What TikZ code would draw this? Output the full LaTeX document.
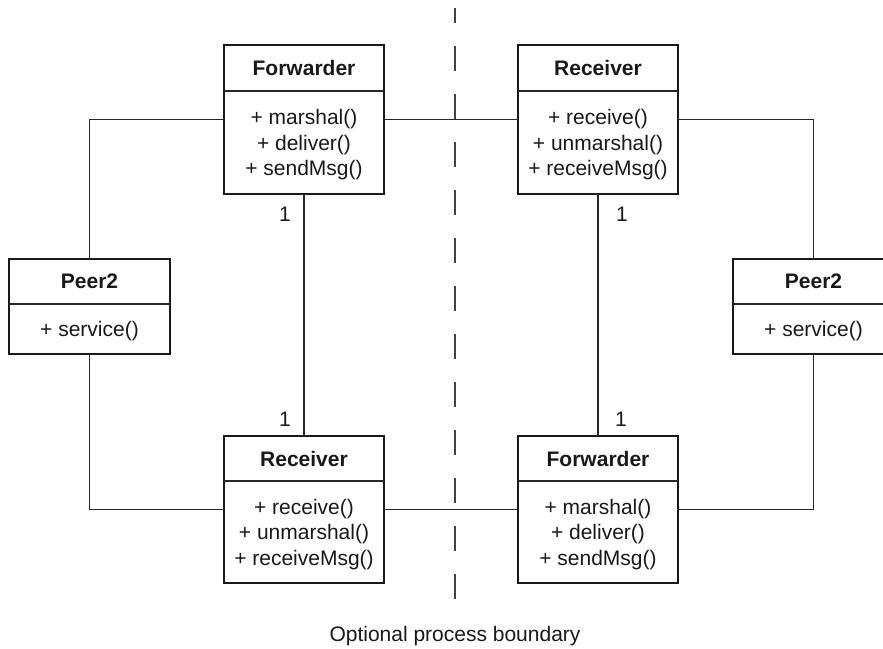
\documentclass[tikz,border=0pt]{standalone}
\usepackage{fontspec}
\setmainfont{Liberation Sans}
% one UML class: name, centre x, centre y, width, height, header height, title, operations
\newcommand\umlclass[8]{%
  \node[classbox, minimum width=#4pt, minimum height=#5pt] (#1) at (#2,#3) {};
  \draw[divider] ({#2-#4/2},{#3-#5/2+#6}) -- ({#2+#4/2},{#3-#5/2+#6});
  \node[classtitle] (#1-title) at (#2,{#3-#5/2+#6/2}) {#7};
  \node[classops] (#1-ops) at (#2,{#3+#6/2+2.5}) {#8};
}
\begin{document}
\begin{tikzpicture}[x=1pt,y=-1pt,
  classbox/.style={draw=black!90, line width=2.6pt, inner sep=0pt, outer sep=0pt, fill=white},
  divider/.style={draw=black!85, line width=1.6pt},
  conn/.style={draw=black!85, line width=1.1pt},
  boundary/.style={draw=black!75, line width=1.8pt, dash pattern=on 25pt off 23pt, dash phase=10pt},
  classtitle/.style={font=\fontsize{21}{25}\selectfont\bfseries, text=black!90, inner sep=0pt},
  classops/.style={font=\fontsize{21}{25.5}\selectfont, text=black!90, align=center, inner sep=0pt},
  mult/.style={font=\fontsize{21}{25}\selectfont, text=black!90, inner sep=0pt},
  caption/.style={font=\fontsize{21}{25}\selectfont, text=black!90, inner sep=0pt}]
\useasboundingbox (0,0) rectangle (883,648);
\clip (0,0) rectangle (883,648);

% process boundary
\coordinate (bTop) at (455,8);
\coordinate (bBot) at (455,618);
\draw[boundary] (bTop) -- (bBot);
\node[caption, anchor=base] (bLabel) at (455,641) {Optional process boundary};

% classes
\umlclass{fwdA}{304}{119.5}{160}{149}{46}{Forwarder}{+ marshal()\\+ deliver()\\+ sendMsg()}
\umlclass{recvA}{598}{119.5}{160}{149}{46}{Receiver}{+ receive()\\+ unmarshal()\\+ receiveMsg()}
\umlclass{recvB}{304}{509.5}{160}{147}{45}{Receiver}{+ receive()\\+ unmarshal()\\+ receiveMsg()}
\umlclass{fwdB}{598}{509.5}{160}{147}{45}{Forwarder}{+ marshal()\\+ deliver()\\+ sendMsg()}
\umlclass{peerL}{89.5}{306.5}{161}{95}{45}{Peer2}{+ service()}
\umlclass{peerR}{813.5}{306.5}{161}{95}{45}{Peer2}{+ service()}

% associations
\draw[conn] (fwdA.west) -| (peerL.north);
\draw[conn] (fwdA.east) -- (recvA.west);
\draw[conn] (recvA.east) -| (peerR.north);
\draw[conn] (peerL.south) |- (recvB.west);
\draw[conn] (recvB.east) -- (fwdB.west);
\draw[conn] (fwdB.east) -| (peerR.south);
\draw[conn] (fwdA.south) -- (recvB.north);
\draw[conn] (recvA.south) -- (fwdB.north);

% multiplicities
\node[mult] (m1) at (285,214) {1};
\node[mult] (m2) at (622,214) {1};
\node[mult] (m3) at (285,419) {1};
\node[mult] (m4) at (621,419) {1};
\end{tikzpicture}
\end{document}
